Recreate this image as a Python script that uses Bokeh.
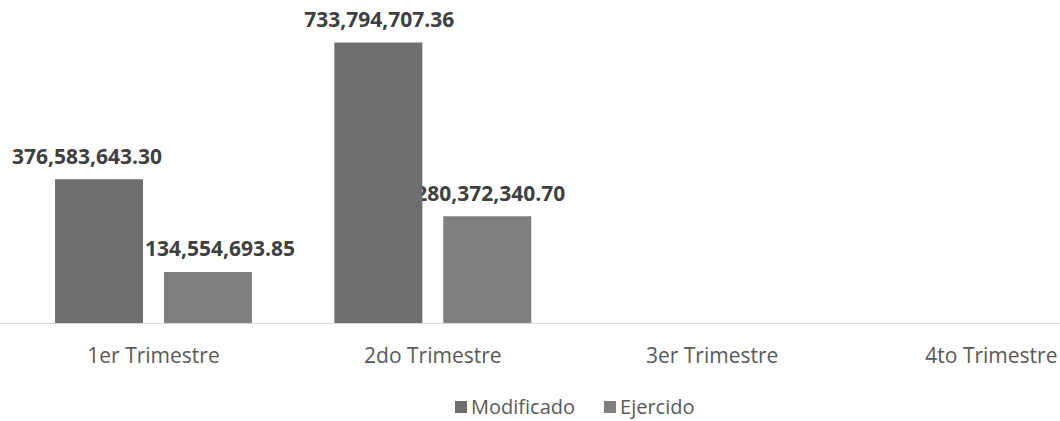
from bokeh.plotting import figure
from bokeh.models import ColumnDataSource, Range1d, FixedTicker, Legend, LegendItem
from bokeh.transform import dodge
from bokeh.embed import file_html
from bokeh.resources import INLINE
from bokeh.core.properties import value

# ---- data ----
categories = ["1er Trimestre", "2do Trimestre", "3er Trimestre", "4to Trimestre"]
series_names = ["Modificado", "Ejercido"]
modificado = [376583643.30, 733794707.36, 0.0, 0.0]
ejercido = [134554693.85, 280372340.70, 0.0, 0.0]

# ---- style ----
bar_colors = ["#6e6e6e", "#7f7f7f"]
dodge_offsets = [-0.195, 0.195]
bar_width = 0.315
label_dx = [[-12, 1, 0, 0], [12, 3, 0, 0]]  # pixel nudges of data labels
FONT = "Open Sans"

xs = [i + 0.5 for i in range(len(categories))]

# frame covers the whole figure; the value axis' zero sits 98px above the bottom
p = figure(width=1060, height=421,
           x_range=Range1d(-0.0478, 3.7474), y_range=Range1d(-255.9e6, 843.5e6),
           output_backend="svg", toolbar_location=None,
           y_axis_location=None, min_border=0)
p.outline_line_color = None
p.xgrid.visible = False
p.ygrid.visible = False
p.background_fill_color = "white"
p.border_fill_color = "white"

# data labels first so that bars cover overlapping text (as in reference)
for s, vals in enumerate([modificado, ejercido]):
    lx, ly, lt, ld = [], [], [], []
    for i, v in enumerate(vals):
        if v > 0:
            lx.append(xs[i]); ly.append(v); lt.append(f"{v:,.2f}"); ld.append(label_dx[s][i])
    lsrc = ColumnDataSource(dict(x=lx, y=ly, text=lt, dx=ld))
    p.text(x=dodge("x", dodge_offsets[s], range=p.x_range), y="y", text="text",
           x_offset="dx", y_offset=-23, source=lsrc,
           text_align="center", text_baseline="alphabetic",
           text_font=value(FONT), text_font_style="bold",
           text_font_size="21px", text_color="#404040")

renderers = []
for s, vals in enumerate([modificado, ejercido]):
    src = ColumnDataSource(dict(x=xs, top=vals))
    r = p.vbar(x=dodge("x", dodge_offsets[s], range=p.x_range), top="top",
               width=bar_width, source=src,
               fill_color=bar_colors[s], line_color=None)
    renderers.append(r)

ax = p.xaxis[0]
ax.fixed_location = 0
ax.ticker = FixedTicker(ticks=xs)
ax.major_label_overrides = {x: c for x, c in zip(xs, categories)}
ax.axis_line_color = "#d9d9d9"
ax.axis_line_width = 1
ax.major_tick_line_color = None
ax.minor_tick_line_color = None
ax.major_label_text_font = FONT
ax.major_label_text_font_size = "21px"
ax.major_label_text_color = "#595959"
ax.major_label_standoff = 11

legend = Legend(items=[LegendItem(label=n, renderers=[r]) for n, r in zip(series_names, renderers)],
                location=(453, 1), orientation="horizontal",
                border_line_color=None, background_fill_alpha=0,
                padding=0, margin=0, spacing=27, label_standoff=3,
                glyph_width=15, glyph_height=15,
                label_text_font=FONT, label_text_font_size="20px",
                label_text_color="#595959")
p.add_layout(legend)

open("out.html", "w").write(file_html(p, INLINE))
